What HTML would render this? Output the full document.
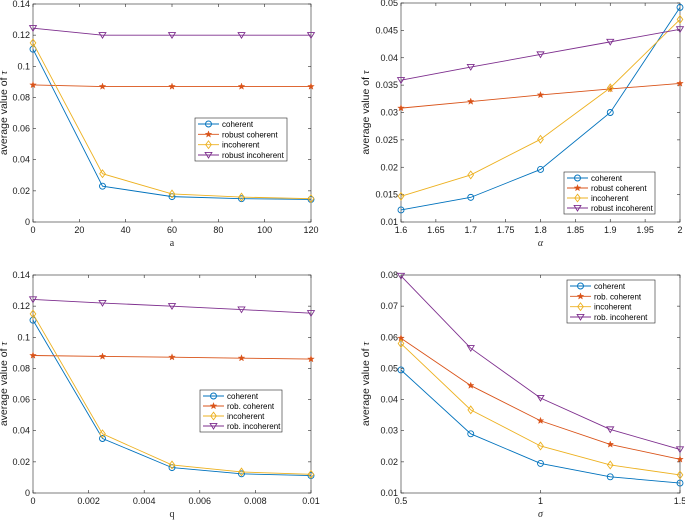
<!DOCTYPE html>
<html><head><meta charset="utf-8"><style>
body{margin:0;background:#fff;width:685px;height:521px;overflow:hidden}
svg{font-family:"Liberation Sans",Arial,sans-serif}
</style></head><body>
<svg id="s" width="685" height="521" xmlns="http://www.w3.org/2000/svg"></svg>
<script>
const names1 = ["coherent","robust coherent","incoherent","robust incoherent"];
const names2 = ["coherent","rob. coherent","incoherent","rob. incoherent"];
const p1x = [0,30,60,90,120];
const p1coh = [0.111,0.023,0.0163,0.015,0.0145];
const p1rc = [0.088,0.087,0.087,0.087,0.087];
const p1inc = [0.115,0.031,0.018,0.016,0.015];
const p1ri = [0.1245,0.12,0.12,0.12,0.12];
const p2x = [1.6,1.7,1.8,1.9,2];
const p2coh = [0.0122,0.0145,0.0196,0.030,0.0492];
const p2rc = [0.0308,0.0320,0.0332,0.0343,0.0353];
const p2inc = [0.0147,0.0186,0.0251,0.0345,0.047];
const p2ri = [0.0359,0.0383,0.0406,0.0429,0.0452];
const p3x = [0,0.0025,0.005,0.0075,0.01];
const p3coh = [0.111,0.035,0.0163,0.0123,0.0112];
const p3rc = [0.0883,0.0877,0.0872,0.0866,0.086];
const p3inc = [0.115,0.038,0.018,0.0135,0.012];
const p3ri = [0.1243,0.122,0.12,0.1178,0.1155];
const p4x = [0.5,0.75,1,1.25,1.5];
const p4coh = [0.0495,0.029,0.0195,0.0152,0.0132];
const p4rc = [0.0597,0.0445,0.0332,0.0256,0.0208];
const p4inc = [0.058,0.0367,0.0251,0.019,0.0158];
const p4ri = [0.0797,0.0565,0.0405,0.0304,0.024];
const xt1 = [0,20,40,60,80,100,120], xl1 = ["0","20","40","60","80","100","120"];
const yt1 = [0,0.02,0.04,0.06,0.08,0.1,0.12,0.14], yl1 = ["0","0.02","0.04","0.06","0.08","0.1","0.12","0.14"];
const xt2 = [1.6,1.65,1.7,1.75,1.8,1.85,1.9,1.95,2], xl2 = ["1.6","1.65","1.7","1.75","1.8","1.85","1.9","1.95","2"];
const yt2 = [0.01,0.015,0.02,0.025,0.03,0.035,0.04,0.045,0.05], yl2 = ["0.01","0.015","0.02","0.025","0.03","0.035","0.04","0.045","0.05"];
const xt3 = [0,0.002,0.004,0.006,0.008,0.01], xl3 = ["0","0.002","0.004","0.006","0.008","0.01"];
const xt4 = [0.5,1,1.5], xl4 = ["0.5","1","1.5"];
const yt4 = [0.01,0.02,0.03,0.04,0.05,0.06,0.07,0.08], yl4 = ["0.01","0.02","0.03","0.04","0.05","0.06","0.07","0.08"];

const colors=["#0072BD","#D95319","#EDB120","#7E2F8E"];
const S=document.getElementById('s'), NS="http://www.w3.org/2000/svg";
function mk(t,a,p){const e=document.createElementNS(NS,t);for(const k in a)e.setAttribute(k,a[k]);(p||S).appendChild(e);return e;}
function marker(g,k,x,y,c){
  let e;
  if(k===0)e=mk('circle',{cx:x,cy:y,r:3,fill:'none',stroke:c,'stroke-width':0.9},g);
  else if(k===1){let p=[];for(let i=0;i<10;i++){const r=i%2?1.4:3.4,a=-Math.PI/2+i*Math.PI/5;p.push((x+r*Math.cos(a)).toFixed(2)+','+(y+r*Math.sin(a)).toFixed(2));}
    e=mk('polygon',{points:p.join(' '),fill:c,stroke:c,'stroke-width':0.4},g);}
  else if(k===2)e=mk('polygon',{points:`${x},${y-3.8} ${x+2.8},${y} ${x},${y+3.8} ${x-2.8},${y}`,fill:'none',stroke:c,'stroke-width':0.9},g);
  else e=mk('polygon',{points:`${x-3.4},${y-2.6} ${x+3.4},${y-2.6} ${x},${y+3}`,fill:'none',stroke:c,'stroke-width':0.9},g);
  
  
}
function panel(id,box,xr,yr,xs,series,xt,xl,yt,yl,xlab,leg,names){
  const g=mk('g',{});
  
  
  const [x0,x1,y0,y1]=box;
  const X=v=>x0+(v-xr[0])/(xr[1]-xr[0])*(x1-x0);
  const Y=v=>y1-(v-yr[0])/(yr[1]-yr[0])*(y1-y0);
  const fr=mk('rect',{x:x0,y:y0,width:x1-x0,height:y1-y0,fill:'#fff',stroke:'#262626','stroke-width':0.6},g);
  
  
  xt.forEach((v,i)=>{const x=X(v);
    mk('line',{x1:x,x2:x,y1:y1,y2:y1-3,stroke:'#262626','stroke-width':0.6},g);
    mk('line',{x1:x,x2:x,y1:y0,y2:y0+3,stroke:'#262626','stroke-width':0.6},g);
    const t=mk('text',{x:x,y:y1+11,'font-size':9,'text-anchor':'middle',fill:'#1a1a1a'},g);t.textContent=xl[i];
    
    });
  yt.forEach((v,i)=>{const y=Y(v);
    mk('line',{x1:x0,x2:x0+3,y1:y,y2:y,stroke:'#262626','stroke-width':0.6},g);
    mk('line',{x1:x1,x2:x1-3,y1:y,y2:y,stroke:'#262626','stroke-width':0.6},g);
    const t=mk('text',{x:x0-3,y:y+3,'font-size':9,'text-anchor':'end',fill:'#1a1a1a'},g);t.textContent=yl[i];
    
    });
  series.forEach((ys,k)=>{
    const pl=mk('polyline',{points:xs.map((v,i)=>X(v)+','+Y(ys[i])).join(' '),fill:'none',stroke:colors[k],'stroke-width':0.9},g);
    
    
    xs.forEach((v,i)=>marker(g,k,X(v),Y(ys[i]),colors[k]));
  });
  const xlT=mk('text',{x:(x0+x1)/2,y:y1+24,'font-size':10,'text-anchor':'middle',fill:'#262626','font-style':xlab.length===1&&xlab!=='a'&&xlab!=='q'?'italic':'normal','font-family':'"Liberation Serif",serif'},g);
  xlT.textContent=xlab;
  
  
  const yx=x0-(x0<200?26:32);
  const ylT=mk('text',{x:0,y:0,'font-size':10.5,'text-anchor':'middle',fill:'#1a1a1a',transform:`translate(${yx},${(y0+y1)/2}) rotate(-90)`},g);
  ylT.innerHTML='average value of <tspan font-style="italic" font-family="Liberation Serif,serif">τ</tspan>';
  
  
  const [lx,ly,lw,lh]=leg;
  const lg=mk('g',{},g);
  
  
  mk('rect',{x:lx,y:ly,width:lw,height:lh,fill:'#fff',stroke:'#262626','stroke-width':0.6},lg);
  names.forEach((n,k)=>{const yy=ly+6+k*(lh-12)/3;
    mk('line',{x1:lx+3,x2:lx+24,y1:yy,y2:yy,stroke:colors[k],'stroke-width':0.9},lg);
    marker(lg,k,lx+13.5,yy,colors[k]);
    const t=mk('text',{x:lx+27,y:yy+3,'font-size':8,fill:'#000'},lg);t.textContent=n;
    
    });
}
panel('panel-a',[33,311,4,222],[0,120],[0,0.14],p1x,[p1coh,p1rc,p1inc,p1ri],xt1,xl1,yt1,yl1,'a',[195,118,92,43],names1);
panel('panel-alpha',[401,680,3,222],[1.6,2],[0.01,0.05],p2x,[p2coh,p2rc,p2inc,p2ri],xt2,xl2,yt2,yl2,'α',[564,172,91,42],names1);
panel('panel-q',[33,311,275,493],[0,0.01],[0,0.14],p3x,[p3coh,p3rc,p3inc,p3ri],xt3,xl3,yt1,yl1,'q',[200,390,82,42],names2);
panel('panel-sigma',[401,680,275,493],[0.5,1.5],[0.01,0.08],p4x,[p4coh,p4rc,p4inc,p4ri],xt4,xl4,yt4,yl4,'σ',[567,280,88,43],names2);
</script>
</body></html>
